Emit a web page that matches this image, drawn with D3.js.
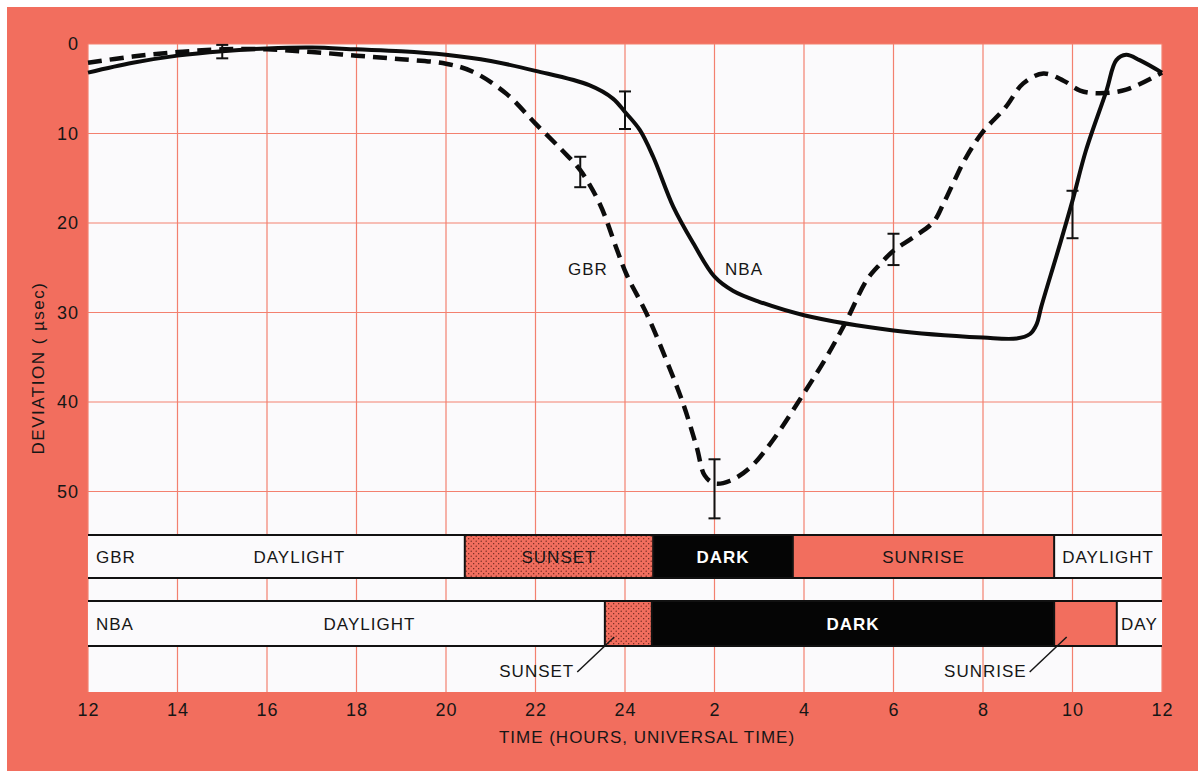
<!DOCTYPE html>
<html>
<head>
<meta charset="utf-8">
<script src="https://cdn.jsdelivr.net/npm/d3@7"></script>
<style>
  body { margin: 0; background: #fff; }
  text { font-family: "Liberation Sans", Arial, sans-serif; }
</style>
</head>
<body>
<svg id="chart"></svg>
<script>
// ---- data ----
const hourTicks = [12, 14, 16, 18, 20, 22, 24, 26, 28, 30, 32, 34, 36];
const devTicks = [0, 10, 20, 30, 40, 50];

// NBA (solid line), hours past 12 UT of day 1 run on to 36
const nbaHours = [12, 13, 14, 15, 16, 17, 18, 19, 20, 21, 22, 23.2, 23.73, 24.0, 24.33, 24.63, 25.08, 25.53, 26, 26.42, 27, 28, 30, 32, 32.75, 33.05, 33.2, 33.3, 33.7, 34.0, 34.3, 34.76, 34.98, 35.2, 35.5, 36];
const nbaDev   = [3.2, 2.1, 1.3, 0.8, 0.5, 0.4, 0.6, 0.8, 1.2, 1.9, 3.0, 4.6, 6.1, 7.6, 9.6, 12.6, 18.2, 22.3, 26.0, 27.6, 28.8, 30.3, 32.0, 32.8, 32.9, 32.4, 31.3, 29.4, 22.7, 17.5, 11.9, 5.2, 1.8, 1.2, 1.8, 3.2];

// GBR (dashed line)
const gbrHours = [12, 13, 14, 15, 16, 17, 18, 19, 20, 20.6, 21.36, 22, 22.6, 23.0, 23.44, 23.8, 24.03, 24.48, 24.93, 25.3, 25.6, 25.78, 26.0, 26.35, 26.8, 27.3, 28.0, 28.5, 28.95, 29.4, 29.7, 30.0, 30.44, 30.89, 31.11, 31.33, 31.63, 32.0, 32.5, 32.9, 33.35, 33.8, 34.17, 34.6, 35.2, 36];
const gbrDev   = [2.1, 1.4, 0.9, 0.6, 0.6, 0.9, 1.3, 1.7, 2.2, 3.1, 5.6, 8.9, 11.9, 14.1, 17.9, 22.7, 25.7, 30.1, 35.4, 40.2, 45.0, 48.2, 49.1, 48.8, 47.3, 44.3, 39.0, 35.0, 30.9, 26.4, 24.6, 23.1, 21.6, 19.9, 17.9, 15.6, 12.6, 9.8, 7.1, 4.4, 3.3, 4.1, 5.2, 5.5, 5.1, 3.2];

// error bars
const nbaErrHours = [15, 24, 34];
const nbaErrLow   = [0.1, 5.3, 16.4];
const nbaErrHigh  = [1.6, 9.5, 21.7];
const gbrErrHours = [23, 26, 30];
const gbrErrLow   = [12.6, 46.4, 21.2];
const gbrErrHigh  = [16.0, 53.0, 24.7];

// illumination along each path
const gbrPhases = ["DAYLIGHT", "SUNSET", "DARK", "SUNRISE", "DAYLIGHT"];
const gbrPhaseEdges = [12, 20.42, 24.63, 27.75, 33.59, 36];
const nbaPhases = ["DAYLIGHT", "SUNSET", "DARK", "SUNRISE", "DAY"];
const nbaPhaseEdges = [12, 23.55, 24.6, 33.59, 34.99, 36];

// ---- layout ----
const W = 1202, H = 771;
const salmon = "#f26e5e";
const gridColor = "#f3806f";
const ink = "#161616";
const plot = {left: 88, top: 44, right: 1162, bottom: 692};

const svg = d3.select("#chart").attr("width", W).attr("height", H);

const defs = svg.append("defs");
const pat = defs.append("pattern")
    .attr("id", "stipple")
    .attr("patternUnits", "userSpaceOnUse")
    .attr("width", 5).attr("height", 5);
pat.append("rect").attr("width", 5).attr("height", 5).attr("fill", salmon);
pat.append("circle").attr("cx", 1.2).attr("cy", 1.2).attr("r", 0.65).attr("fill", "#5b1f16");
pat.append("circle").attr("cx", 3.7).attr("cy", 3.7).attr("r", 0.65).attr("fill", "#5b1f16");

// salmon frame + white plotting field
svg.append("rect")
    .attr("x", 7).attr("y", 7).attr("width", 1191).attr("height", H - 7)
    .attr("fill", salmon);
svg.append("rect")
    .attr("x", plot.left).attr("y", plot.top)
    .attr("width", plot.right - plot.left).attr("height", plot.bottom - plot.top)
    .attr("fill", "#fbfafc");

const x = d3.scaleLinear().domain([12, 36]).range([plot.left, plot.right]);
const y = d3.scaleLinear().domain([0, 50]).range([plot.top, plot.top + 50 * 8.95]);

// grid
svg.append("g").selectAll("line")
    .data(hourTicks)
    .join("line")
    .attr("x1", d => x(d)).attr("x2", d => x(d))
    .attr("y1", plot.top).attr("y2", plot.bottom)
    .attr("stroke", gridColor).attr("stroke-width", 1.2);
svg.append("g").selectAll("line")
    .data(devTicks)
    .join("line")
    .attr("x1", plot.left).attr("x2", plot.right)
    .attr("y1", d => y(d)).attr("y2", d => y(d))
    .attr("stroke", gridColor).attr("stroke-width", 1.2);

// axes (labels only)
const xAxis = d3.axisBottom(x)
    .tickValues(hourTicks)
    .tickSize(0)
    .tickPadding(11)
    .tickFormat(d => d > 24 ? d - 24 : d);
const xAxisG = svg.append("g")
    .attr("transform", `translate(0,${plot.bottom})`)
    .call(xAxis);
xAxisG.select(".domain").remove();
xAxisG.selectAll("text")
    .style("font-family", '"Liberation Sans", Arial, sans-serif')
    .style("font-size", "18px").style("letter-spacing", "1px").style("fill", ink);

const yAxis = d3.axisLeft(y).tickValues(devTicks).tickSize(0).tickPadding(9);
const yAxisG = svg.append("g")
    .attr("transform", `translate(${plot.left},0)`)
    .call(yAxis);
yAxisG.select(".domain").remove();
yAxisG.selectAll("text")
    .style("font-family", '"Liberation Sans", Arial, sans-serif')
    .style("font-size", "18px").style("letter-spacing", "1px").style("fill", ink);

svg.append("text")
    .attr("x", 647).attr("y", 743)
    .attr("text-anchor", "middle")
    .style("font-size", "17px").style("letter-spacing", "1px").style("fill", ink)
    .text("TIME (HOURS, UNIVERSAL TIME)");

svg.append("text")
    .attr("transform", `translate(44,${(plot.top + plot.bottom) / 2}) rotate(-90)`)
    .attr("text-anchor", "middle")
    .style("font-size", "17px").style("letter-spacing", "1.5px").style("fill", ink)
    .text("DEVIATION ( µsec)");

// illumination bars
function phaseFill(p) {
    if (p === "SUNSET") return "url(#stipple)";
    if (p === "DARK") return "#050505";
    if (p === "SUNRISE") return salmon;
    return "#fbfafc";
}

function drawRow(name, phases, edges, top, h, outside) {
    const g = svg.append("g");
    const segs = phases.map((p, i) => ({p, x0: edges[i], x1: edges[i + 1], i}));
    g.selectAll("rect")
        .data(segs)
        .join("rect")
        .attr("x", d => x(d.x0)).attr("y", top)
        .attr("width", d => x(d.x1) - x(d.x0)).attr("height", h)
        .attr("fill", d => phaseFill(d.p));
    // frame lines
    g.selectAll("line.hl")
        .data([top, top + h])
        .join("line").attr("class", "hl")
        .attr("x1", plot.left).attr("x2", plot.right)
        .attr("y1", d => d).attr("y2", d => d)
        .attr("stroke", "#111").attr("stroke-width", 2);
    g.selectAll("line.vl")
        .data(edges.slice(1, -1))
        .join("line").attr("class", "vl")
        .attr("x1", d => x(d)).attr("x2", d => x(d))
        .attr("y1", top).attr("y2", top + h)
        .attr("stroke", "#111").attr("stroke-width", 2);

    g.append("text")
        .attr("x", plot.left + 8).attr("y", top + h / 2 + 6)
        .style("font-size", "17px").style("letter-spacing", "1px").style("fill", ink)
        .text(name);

    g.selectAll("text.seg")
        .data(segs.filter(d => !outside.includes(d.p)))
        .join("text").attr("class", "seg")
        .attr("x", d => d.i === 0 ? (plot.left + 46 + x(d.x1)) / 2 : (x(d.x0) + x(d.x1)) / 2)
        .attr("y", top + h / 2 + 6)
        .attr("text-anchor", "middle")
        .style("font-size", "17px").style("letter-spacing", "1px")
        .style("font-weight", d => d.p === "DARK" ? "bold" : "normal")
        .style("fill", d => d.p === "DARK" ? "#fff" : ink)
        .text(d => d.p);

    // callouts for the narrow segments
    segs.filter(d => outside.includes(d.p)).forEach(d => {
        const tx = x(d.x0) + 0.2 * (x(d.x1) - x(d.x0));
        g.append("line")
            .attr("x1", tx - 37).attr("y1", top + h + 26)
            .attr("x2", tx).attr("y2", top + h - 9)
            .attr("stroke", ink).attr("stroke-width", 1.5);
        g.append("text")
            .attr("x", tx - 40).attr("y", top + h + 31)
            .attr("text-anchor", "end")
            .style("font-size", "17px").style("letter-spacing", "1px").style("fill", ink)
            .text(d.p);
    });
}

drawRow("GBR", gbrPhases, gbrPhaseEdges, 535, 43, []);
drawRow("NBA", nbaPhases, nbaPhaseEdges, 601, 45, ["SUNSET", "SUNRISE"]);

// curves
const line = d3.line()
    .x(d => x(d[0]))
    .y(d => y(d[1]))
    .curve(d3.curveCatmullRom.alpha(0.5));

svg.append("path")
    .datum(gbrHours.map((h, i) => [h, gbrDev[i]]))
    .attr("d", line)
    .attr("fill", "none")
    .attr("stroke", "#0c0c0c").attr("stroke-width", 4.5)
    .attr("stroke-dasharray", "14,8");

svg.append("path")
    .datum(nbaHours.map((h, i) => [h, nbaDev[i]]))
    .attr("d", line)
    .attr("fill", "none")
    .attr("stroke", "#0c0c0c").attr("stroke-width", 4)
    .attr("stroke-linejoin", "round");

// error bars
function drawErr(hours, lo, hi) {
    const eb = hours.map((h, i) => ({h, lo: lo[i], hi: hi[i]}));
    const g = svg.append("g").attr("stroke", "#111").attr("stroke-width", 2);
    g.selectAll("line.v").data(eb).join("line").attr("class", "v")
        .attr("x1", d => x(d.h)).attr("x2", d => x(d.h))
        .attr("y1", d => y(d.lo)).attr("y2", d => y(d.hi));
    g.selectAll("line.a").data(eb).join("line").attr("class", "a")
        .attr("x1", d => x(d.h) - 6).attr("x2", d => x(d.h) + 6)
        .attr("y1", d => y(d.lo)).attr("y2", d => y(d.lo));
    g.selectAll("line.b").data(eb).join("line").attr("class", "b")
        .attr("x1", d => x(d.h) - 6).attr("x2", d => x(d.h) + 6)
        .attr("y1", d => y(d.hi)).attr("y2", d => y(d.hi));
}
drawErr(nbaErrHours, nbaErrLow, nbaErrHigh);
drawErr(gbrErrHours, gbrErrLow, gbrErrHigh);

// series labels
svg.append("text")
    .attr("x", x(23.17)).attr("y", y(25.1) + 6)
    .attr("text-anchor", "middle")
    .style("font-size", "17px").style("letter-spacing", "1px").style("fill", ink)
    .text("GBR");
svg.append("text")
    .attr("x", x(26.66)).attr("y", y(25.1) + 6)
    .attr("text-anchor", "middle")
    .style("font-size", "17px").style("letter-spacing", "1px").style("fill", ink)
    .text("NBA");
</script>
</body>
</html>
